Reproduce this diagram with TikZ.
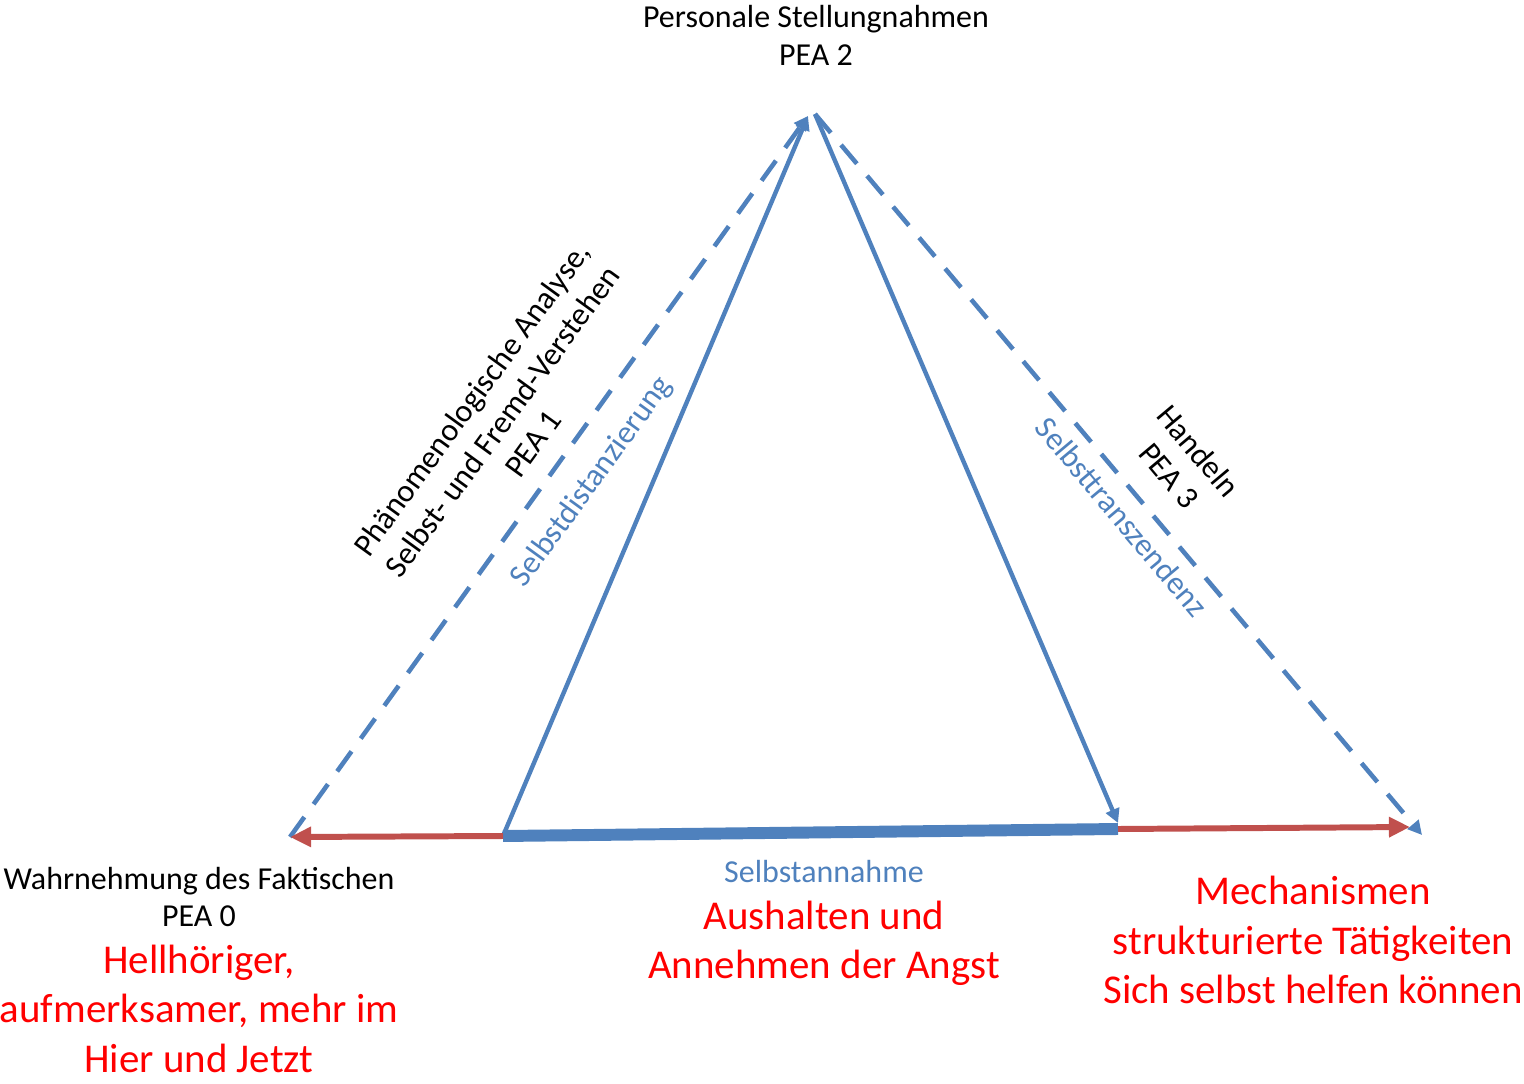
\documentclass[tikz,border=0pt]{standalone}
\usepackage{fontspec}
\setmainfont{Carlito}
\definecolor{pablue}{RGB}{79,129,189}
\definecolor{pared}{RGB}{192,80,77}
\definecolor{patext}{RGB}{255,0,0}
\usetikzlibrary{arrows.meta,positioning}

\begin{document}
\begin{tikzpicture}[x=0.02cm, y=-0.02cm,
  label/.style={align=center, font=\fontsize{18.2}{21.6}\selectfont},
  bluelabel/.style={label, text=pablue},
  redlabel/.style={align=center, text=patext, font=\fontsize{23.3}{28.2}\selectfont},
  dashline/.style={pablue, line width=2.6pt, dash pattern=on 14pt off 9pt,
    -{Triangle[length=8pt, width=8pt]}},
  sideline/.style={pablue, line width=2.5pt, -{Triangle[length=8pt, width=8pt]}},
  redarrow/.style={pared, line width=3.4pt, -{Triangle[length=12pt, width=11pt]}},
]
\useasboundingbox (0,0) rectangle (1524,1084);

% Corners
\coordinate (top)    at (808,116);
\coordinate (topr)   at (815,114);
\coordinate (outl)   at (290,837);
\coordinate (outr)   at (1422,835);
\coordinate (inl)    at (503,836);
\coordinate (inr)    at (1118,829);
\coordinate (inrtip) at (1118,823);
\coordinate (redr)   at (1410,827);

% Outer dashed triangle
\draw[dashline] (outl) -- (top);
\draw[dashline] (topr) -- (outr);

% Inner triangle
\draw[sideline] (inl) -- (top);
\draw[sideline] (topr) -- (inrtip);
\draw[pablue, line width=6.8pt] (inl) -- (inr);

% Red arrows
\draw[redarrow] (inl) -- (outl);
\draw[redarrow] (inr) -- (redr);

% Corner labels
\node[label] (pea2) at (816,35) {Personale Stellungnahmen\\PEA 2};
\node[label] (pea0) at (199,897) {Wahrnehmung des Faktischen\\PEA 0};
\node[redlabel, below=3pt of pea0] (pea0red) {Hellhöriger,\\aufmerksamer, mehr im\\Hier und Jetzt};
\node[bluelabel] (annahme) at (824,872) {Selbstannahme};
\node[redlabel, below=3pt of annahme] (annahmered) {Aushalten und\\Annehmen der Angst};
\node[redlabel] (mech) at (1313,940) {Mechanismen\\strukturierte Tätigkeiten\\Sich selbst helfen können};

% Side labels
\node[label, rotate=54] (pea1) at (502,421) {Phänomenologische Analyse,\\Selbst- und Fremd-Verstehen\\PEA 1};
\node[bluelabel, rotate=54] (distanz) at (592,482) {Selbstdistanzierung};
\node[label, rotate=-50] (pea3) at (1184,463) {Handeln\\PEA 3};
\node[bluelabel, rotate=-50] (transz) at (1122,517) {Selbsttranszendenz};

\end{tikzpicture}
\end{document}
